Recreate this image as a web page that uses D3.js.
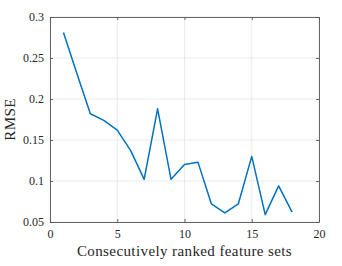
<!DOCTYPE html>
<html lang="en">
<head>
    <meta charset="UTF-8">
    <title>RMSE chart</title>
    <script src="https://cdn.jsdelivr.net/npm/d3@7"></script>
    <style>
        body { margin: 0; background: #fff; }
        text { font-family: "Liberation Serif", serif; fill: #262626; }
    </style>
</head>
<body>
    <script>
        // data
        var featureSets = [1, 2, 3, 4, 5, 6, 7, 8, 9, 10, 11, 12, 13, 14, 15, 16, 17, 18];
        var rmse = [0.281, 0.231, 0.182, 0.174, 0.162, 0.137, 0.102, 0.188, 0.102, 0.120,
                    0.123, 0.072, 0.061, 0.072, 0.130, 0.059, 0.094, 0.062];
        var xTicks = [0, 5, 10, 15, 20];
        var yTicks = [0.05, 0.1, 0.15, 0.2, 0.25, 0.3];

        var w = 342, h = 266;
        // plot box (window.top is reserved, so use other names)
        var pLeft = 50, pRight = 319, pTop = 17, pBottom = 222;

        var svg = d3.select("body").append("svg")
            .attr("width", w)
            .attr("height", h);

        var x = d3.scaleLinear().domain([0, 20]).range([pLeft, pRight]);
        var y = d3.scaleLinear().domain([0.05, 0.3]).range([pBottom, pTop]);

        // grid
        var grid = svg.append("g");
        grid.selectAll("line.gx").data(xTicks).enter().append("line")
            .attr("x1", function(d){ return x(d); })
            .attr("x2", function(d){ return x(d); })
            .attr("y1", pTop).attr("y2", pBottom)
            .attr("stroke", "#e6e6e6").attr("stroke-width", 0.8);
        grid.selectAll("line.gy").data(yTicks).enter().append("line")
            .attr("y1", function(d){ return y(d); })
            .attr("y2", function(d){ return y(d); })
            .attr("x1", pLeft).attr("x2", pRight)
            .attr("stroke", "#e6e6e6").attr("stroke-width", 0.8);

        // axes (ticks pointing inward, MATLAB style)
        var fmtY = function(d){ return String(+d.toFixed(2)); };
        svg.append("g").attr("transform", "translate(0," + pBottom + ")")
            .call(d3.axisBottom(x).tickValues(xTicks).tickSizeInner(-3).tickSizeOuter(0).tickPadding(7));
        svg.append("g").attr("transform", "translate(0," + pTop + ")")
            .call(d3.axisTop(x).tickValues(xTicks).tickSizeInner(-3).tickSizeOuter(0).tickFormat(""));
        svg.append("g").attr("transform", "translate(" + pLeft + ",0)")
            .call(d3.axisLeft(y).tickValues(yTicks).tickSizeInner(-3).tickSizeOuter(0).tickPadding(6).tickFormat(fmtY));
        svg.append("g").attr("transform", "translate(" + pRight + ",0)")
            .call(d3.axisRight(y).tickValues(yTicks).tickSizeInner(-3).tickSizeOuter(0).tickFormat(""));

        svg.selectAll(".domain").attr("stroke", "#555").attr("stroke-width", 0.9);
        svg.selectAll(".tick line").attr("stroke", "#555").attr("stroke-width", 0.9);
        svg.selectAll(".tick text").attr("font-size", "12px")
            .attr("font-family", "Liberation Serif, serif").attr("fill", "#262626");

        // line
        var line = d3.line()
            .x(function(d, i){ return x(featureSets[i]); })
            .y(function(d){ return y(d); });
        svg.append("path").datum(rmse)
            .attr("d", line)
            .attr("fill", "none")
            .attr("stroke", "#0072BD")
            .attr("stroke-width", 1.5)
            .attr("stroke-linejoin", "round");

        // labels
        svg.append("text")
            .attr("x", (pLeft + pRight) / 2)
            .attr("y", 256)
            .attr("text-anchor", "middle")
            .attr("font-size", "15px")
            .attr("letter-spacing", "0.4px")
            .text("Consecutively ranked feature sets");
        svg.append("text")
            .attr("transform", "translate(15," + ((pTop + pBottom) / 2) + ") rotate(-90)")
            .attr("text-anchor", "middle")
            .attr("font-size", "15px")
            .attr("letter-spacing", "0.4px")
            .text("RMSE");
    </script>
</body>
</html>
